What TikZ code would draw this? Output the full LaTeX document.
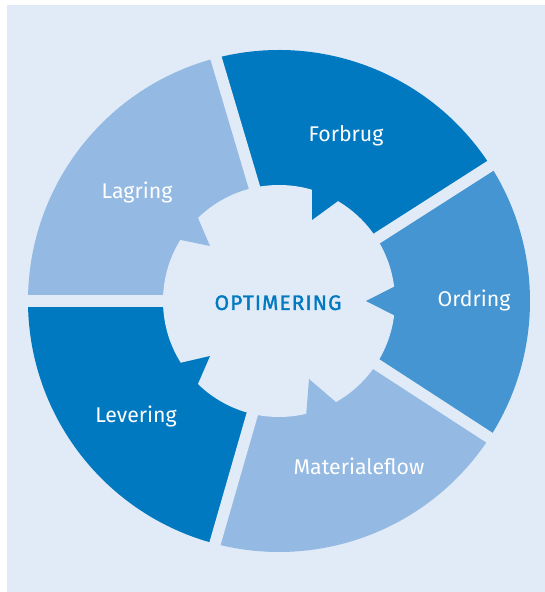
\documentclass[tikz,border=0pt]{standalone}
\usepackage{fontspec}
\setmainfont{Fira Sans}
\newfontfamily\optfont[LetterSpace=5,FakeBold=1.5]{Fira Sans}
\definecolor{bgblue}{HTML}{E1EBF7}
\definecolor{darkblue}{HTML}{0079C1}
\definecolor{midblue}{HTML}{4495D1}
\definecolor{lightblue}{HTML}{94B9E3}
\tikzset{
  seglabel/.style={text=white, font=\fontsize{21.3}{21.3}\selectfont, anchor=base, inner sep=0pt},
  gapline/.style={draw=bgblue, line width=11.5pt},
}
\begin{document}
\begin{tikzpicture}[x=1pt,y=1pt]
\useasboundingbox (0,0) rectangle (545,592);
\fill[white] (0,0) rectangle (545,592);
\fill[bgblue] (7,0) rectangle (545,587);
\coordinate (C) at (279,291);
% sectors
\fill[darkblue]  (C) -- ([shift={(C)}]32.6:251) arc[start angle=32.6, end angle=104.5, radius=251] -- cycle;
\fill[lightblue] (C) -- ([shift={(C)}]104.5:251) arc[start angle=104.5, end angle=180, radius=251] -- cycle;
\fill[darkblue]  (C) -- ([shift={(C)}]180:251) arc[start angle=180, end angle=255.2, radius=251] -- cycle;
\fill[lightblue] (C) -- ([shift={(C)}]255.2:251) arc[start angle=255.2, end angle=327, radius=251] -- cycle;
\fill[midblue]   (C) -- ([shift={(C)}]-33:251) arc[start angle=-33, end angle=32.6, radius=251] -- cycle;
% gaps
\draw[gapline] (273,342) -- (204.6,572.4);
\draw[gapline] ([shift={(C)}]32.6:90) -- ([shift={(C)}]32.6:270);
\draw[gapline] ([shift={(C)}]-33:90) -- ([shift={(C)}]-33:270);
\draw[gapline] ([shift={(C)}]180:90) -- ([shift={(C)}]180:270);
\draw[gapline] (271,243) -- (202.6,5.4);
% inner gear
\fill[bgblue] (C) circle[radius=116];
\fill[lightblue] (198,374) -- (210,346) -- (181,352) -- ([shift={(C)}]148.3:135) -- ([shift={(C)}]134.5:135) -- cycle;
\fill[darkblue] (312,403) -- (312,372) -- (338,391) -- ([shift={(C)}]59.3:135) -- ([shift={(C)}]73.5:135) -- cycle;
\fill[midblue] (395.5,306) -- (366,291) -- (395.5,276) -- ([shift={(C)}]-8:135) -- ([shift={(C)}]8:135) -- cycle;
\fill[darkblue] (180,229) -- (210,236) -- (197,206) -- ([shift={(C)}]226:135) -- ([shift={(C)}]212:135) -- cycle;
\fill[lightblue] (337,189) -- (309,213) -- (306,175) -- ([shift={(C)}]-76.9:135) -- ([shift={(C)}]-60.4:135) -- cycle;
% labels
\node[seglabel] (forbrug) at (346,450) {Forbrug};
\node[seglabel] (lagring) at (137,393) {Lagring};
\node[seglabel] (ordring) at (474,285) {Ordring};
\node[seglabel] (levering) at (136,169) {Levering};
\node[seglabel] (materialeflow) at (359,117) {Materialeflow};
\node[anchor=base, inner sep=0pt, text=darkblue, font=\fontsize{21}{21}\optfont] (optimering) at (278,282) {OPTIMERING};
\end{tikzpicture}
\end{document}
